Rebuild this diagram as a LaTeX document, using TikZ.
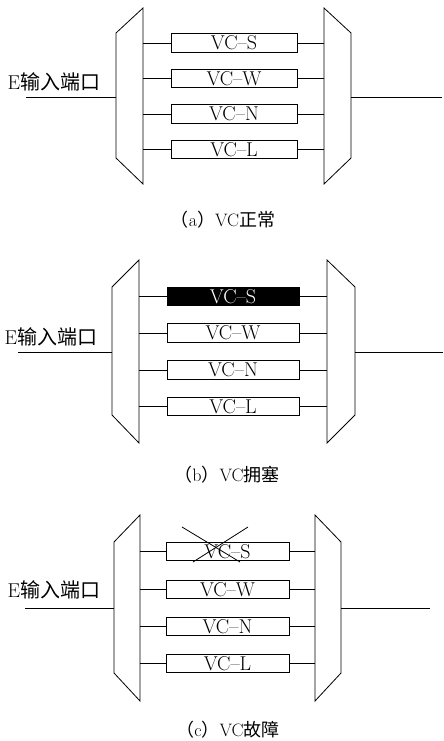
\documentclass[tikz,border=0pt]{standalone}
\usepackage{fontspec}
\newfontfamily\cjk{Noto Sans CJK SC}
\begin{document}
\begin{tikzpicture}[x=1pt,y=-1pt,
  wire/.style={line width=0.8pt},
  vcbox/.style={draw,line width=0.8pt,minimum height=18.5pt,inner sep=0pt,font=\fontsize{20}{20}\selectfont},
  portlbl/.style={font=\fontsize{20}{20}\selectfont,inner sep=0pt},
  caplbl/.style={font=\fontsize{18}{18}\selectfont,inner sep=0pt}]
\useasboundingbox (0,0) rectangle (444,741);
\fill[white] (0,0) rectangle (444,741);

% ---------------- panel (a) ----------------
\coordinate (aL1) at (116,33); \coordinate (aL2) at (143,8);
\coordinate (aL3) at (143,184); \coordinate (aL4) at (116,158);
\coordinate (aR1) at (324,8); \coordinate (aR2) at (351,33);
\coordinate (aR3) at (351,158); \coordinate (aR4) at (324,184);
\draw[wire] (aL1) -- (aL2) -- (aL3) -- (aL4) -- cycle;
\draw[wire] (aR1) -- (aR2) -- (aR3) -- (aR4) -- cycle;
\foreach \n/\t/\y in {S/S/43,W/W/78.5,N/N/114,L/L/149.5}{
  \node[vcbox,minimum width=126pt] (a\n) at (234,\y) {VC--\t};
  \draw[wire] (a\n.west) -- (a\n.west -| aL2);
  \draw[wire] (a\n.east) -- (a\n.east -| aR1);
}
\coordinate (ain) at (26,97); \coordinate (aout) at (442,97);
\draw[wire] (ain) -- (ain -| aL1);
\draw[wire] (aout -| aR2) -- (aout);
\node[portlbl] (alab) at (54,82) {E{\cjk 输入端口}};
\node[caplbl] (acap) at (223,220) {{\cjk （}a{\cjk ）}VC{\cjk 正常}};

% ---------------- panel (b) ----------------
\coordinate (bL1) at (112,287); \coordinate (bL2) at (139,260);
\coordinate (bL3) at (139,443); \coordinate (bL4) at (112,415);
\coordinate (bR1) at (327,260); \coordinate (bR2) at (355,287);
\coordinate (bR3) at (355,415); \coordinate (bR4) at (327,443);
\draw[wire] (bL1) -- (bL2) -- (bL3) -- (bL4) -- cycle;
\draw[wire] (bR1) -- (bR2) -- (bR3) -- (bR4) -- cycle;
\node[vcbox,minimum width=132pt,fill=black,text=white] (bS) at (233,296.5) {VC--S};
\foreach \n/\t/\y in {W/W/333,N/N/370,L/L/406.5}{
  \node[vcbox,minimum width=132pt] (b\n) at (233,\y) {VC--\t};
}
\foreach \n in {S,W,N,L}{
  \draw[wire] (b\n.west) -- (b\n.west -| bL2);
  \draw[wire] (b\n.east) -- (b\n.east -| bR1);
}
\coordinate (bin) at (18,352); \coordinate (bout) at (443,352);
\draw[wire] (bin) -- (bin -| bL1);
\draw[wire] (bout -| bR2) -- (bout);
\node[portlbl] (blab) at (51,337) {E{\cjk 输入端口}};
\node[caplbl] (bcap) at (227,475) {{\cjk （}b{\cjk ）}VC{\cjk 拥塞}};

% ---------------- panel (c) ----------------
\coordinate (cL1) at (114,542); \coordinate (cL2) at (140,515);
\coordinate (cL3) at (140,701); \coordinate (cL4) at (114,673);
\coordinate (cR1) at (315,515); \coordinate (cR2) at (341,542);
\coordinate (cR3) at (341,673); \coordinate (cR4) at (315,701);
\draw[wire] (cL1) -- (cL2) -- (cL3) -- (cL4) -- cycle;
\draw[wire] (cR1) -- (cR2) -- (cR3) -- (cR4) -- cycle;
\foreach \n/\t/\y in {S/S/551.5,W/W/589.5,N/N/626.5,L/L/663.5}{
  \node[vcbox,minimum width=123pt] (c\n) at (227.5,\y) {VC--\t};
  \draw[wire] (c\n.west) -- (c\n.west -| cL2);
  \draw[wire] (c\n.east) -- (c\n.east -| cR1);
}
\coordinate (cx1) at (182,527); \coordinate (cx2) at (240,562);
\coordinate (cx3) at (248,527); \coordinate (cx4) at (193,562);
\draw[wire] (cx1) -- (cx2);
\draw[wire] (cx3) -- (cx4);
\coordinate (cin) at (25,608); \coordinate (cout) at (430,608);
\draw[wire] (cin) -- (cin -| cL1);
\draw[wire] (cout -| cR2) -- (cout);
\node[portlbl] (clab) at (54,590) {E{\cjk 输入端口}};
\node[caplbl] (ccap) at (228,730) {{\cjk （}c{\cjk ）}VC{\cjk 故障}};
\end{tikzpicture}
\end{document}
